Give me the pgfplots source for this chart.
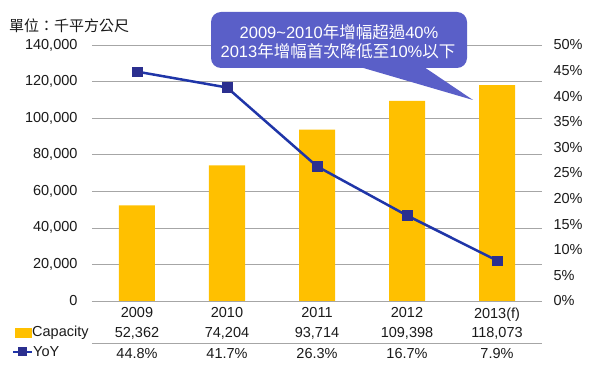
\documentclass[border=0pt]{standalone}
\usepackage{pgfplots}
\pgfplotsset{compat=1.18}
\usepackage{fontspec}
\setmainfont{Liberation Sans}
\newfontfamily\cjk{Noto Sans CJK TC}
\definecolor{barc}{HTML}{FFC000}
\definecolor{linec}{HTML}{1F35A8}
\definecolor{markc}{HTML}{2B2F8F}
\definecolor{callc}{HTML}{5A5FC8}
\definecolor{gridc}{HTML}{A6A6A6}
\definecolor{txt}{HTML}{1A1A1A}
\begin{document}
\begin{tikzpicture}[font=\fontsize{14.5}{16}\selectfont\color{txt}]
\useasboundingbox (0pt,0pt) rectangle (600pt,375pt);
\begin{axis}[at={(92pt,74pt)}, anchor=south west, scale only axis,
  width=450pt, height=256pt,
  xmin=-0.5, xmax=4.5, ymin=0, ymax=140000,
  ytick={0,20000,...,140000},
  ymajorgrids, grid style={gridc, line width=0.6pt},
  axis x line*=bottom, axis y line*=left,
  y axis line style={draw=none},
  x axis line style={gridc, line width=0.6pt},
  major tick length=0pt,
  xtick={0,...,4}, xticklabels={2009,2010,2011,2012,2013(f)},
  scaled y ticks=false,
  /pgf/number format/fixed, /pgf/number format/1000 sep={,},
  /pgf/number format/assume math mode=true,
  tick label style={font=\fontsize{14.5}{16}\selectfont, text=txt},
  yticklabel style={xshift=-11pt},
  xticklabel style={yshift=-3pt},
  clip=false]
\addplot[ybar, bar width=36pt, fill=barc, draw=none]
  coordinates {(0,52362) (1,74204) (2,93714) (3,109398) (4,118073)};
% table rows
\draw[gridc, line width=0.6pt] (axis cs:-0.5,-22970) -- (axis cs:4.5,-22970);
\node at (axis cs:0,-17500) {52,362};
\node at (axis cs:1,-17500) {74,204};
\node at (axis cs:2,-17500) {93,714};
\node at (axis cs:3,-17500) {109,398};
\node at (axis cs:4,-17500) {118,073};
\node at (axis cs:0,-28600) {44.8\%};
\node at (axis cs:1,-28600) {41.7\%};
\node at (axis cs:2,-28600) {26.3\%};
\node at (axis cs:3,-28600) {16.7\%};
\node at (axis cs:4,-28600) {7.9\%};
\end{axis}
\begin{axis}[at={(92pt,74pt)}, anchor=south west, scale only axis,
  width=450pt, height=256pt,
  xmin=-0.5, xmax=4.5, ymin=0, ymax=50,
  ytick={0,5,...,50},
  yticklabel={\pgfmathprintnumber{\tick}\%},
  axis x line=none, axis y line*=right,
  y axis line style={draw=none},
  major tick length=0pt,
  /pgf/number format/assume math mode=true,
  tick label style={font=\fontsize{14.5}{16}\selectfont, text=txt},
  yticklabel style={xshift=8pt},
  clip=false]
\addplot[linec, line width=2.5pt, mark=square*, mark size=4.8pt,
  mark options={draw=markc, fill=markc, line width=0.5pt}]
  coordinates {(0,44.8) (1,41.7) (2,26.3) (3,16.7) (4,7.9)};
\end{axis}
% legend keys of the table
\fill[barc] (15pt,37pt) rectangle (32pt,47pt);
\node[anchor=west, inner sep=0pt] at (32pt,42pt) {Capacity};
\draw[linec, line width=2.5pt] (13pt,23pt) -- (32pt,23pt);
\fill[markc] (17.5pt,18.5pt) rectangle (26.5pt,27.5pt);
\node[anchor=west, inner sep=0pt] at (33pt,23pt) {YoY};
% unit title
\node[anchor=west, inner sep=0pt] at (9pt,349pt) {\cjk\fontsize{15}{17}\selectfont 單位：千平方公尺};
% callout
\fill[callc, rounded corners=10pt] (211pt,307pt) rectangle (467pt,363pt);
\fill[callc] (360pt,308pt) -- (473pt,275pt) -- (424pt,308pt) -- cycle;
\node[white, font=\fontsize{16.5}{18}\selectfont] at (339pt,343pt)
  {2009\textasciitilde 2010{\cjk 年增幅超過}40\%};
\node[white, font=\fontsize{16.5}{18}\selectfont] at (338pt,324pt)
  {2013{\cjk 年增幅首次降低至}10\%{\cjk 以下}};
\end{tikzpicture}
\end{document}
